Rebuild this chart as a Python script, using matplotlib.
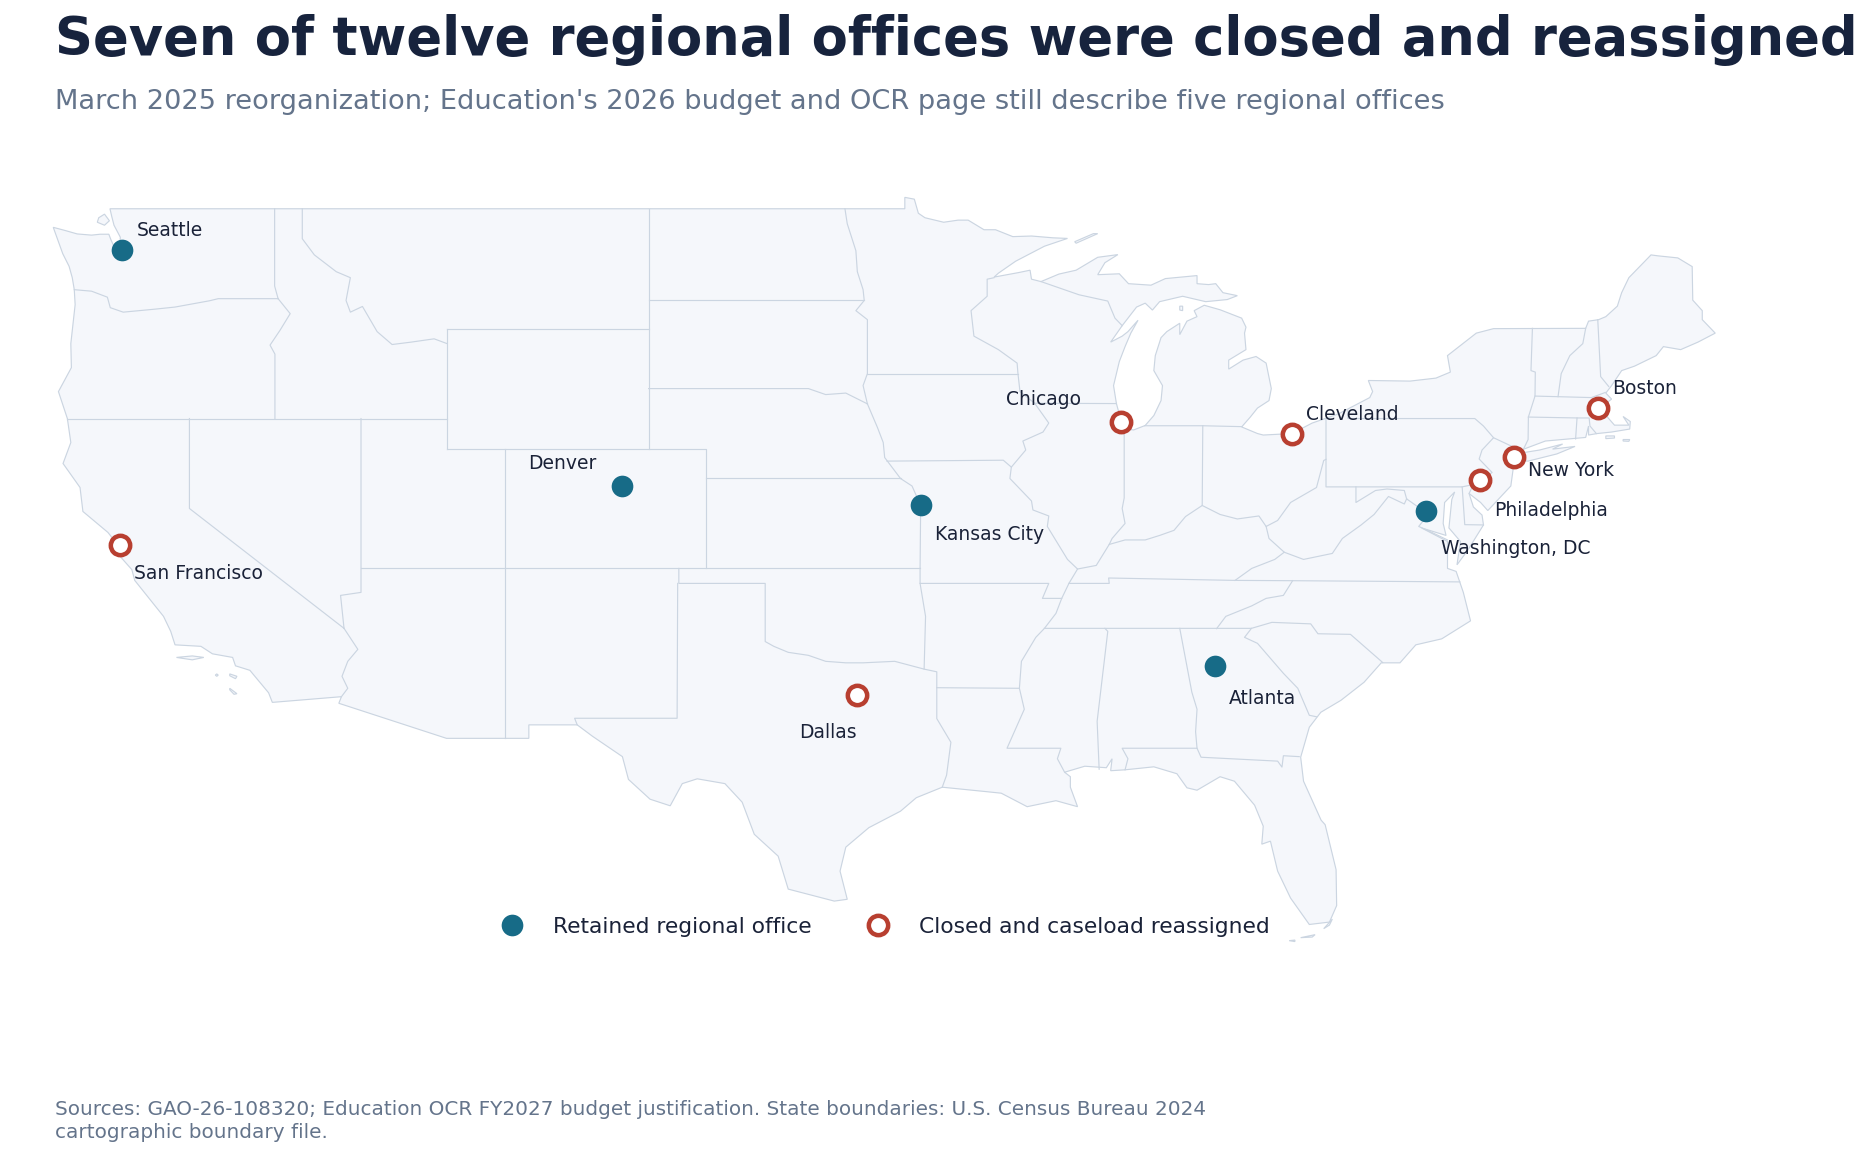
import matplotlib
matplotlib.use("Agg")
import matplotlib.pyplot as plt
from matplotlib.lines import Line2D

TITLE = "Seven of twelve regional offices were closed and reassigned"
SUBTITLE = "March 2025 reorganization; Education's 2026 budget and OCR page still describe five regional offices"
SOURCE = ("Sources: GAO-26-108320; Education OCR FY2027 budget justification. State boundaries: U.S. Census Bureau 2024\n"
          "cartographic boundary file.")

retained_names = ["Seattle", "Denver", "Kansas City", "Washington, DC", "Atlanta"]
retained_lon = [-122.33, -104.99, -94.58, -77.04, -84.39]
retained_lat = [47.61, 39.74, 39.10, 38.90, 33.75]
closed_names = ["San Francisco", "Dallas", "Chicago", "Cleveland", "New York", "Philadelphia", "Boston"]
closed_lon = [-122.42, -96.80, -87.63, -81.69, -74.00, -75.16, -71.06]
closed_lat = [37.77, 32.78, 41.88, 41.50, 40.71, 39.95, 42.36]

mainland = [
 (-124.73,48.38),(-124.3,48.27),(-123.9,48.16),(-123.4,48.12),(-123.1,48.15),(-122.8,48.15),(-122.72,47.95),(-122.55,47.6),
 (-122.5,47.3),(-122.42,47.3),(-122.42,47.75),(-122.4,48.05),(-122.62,48.45),(-122.7,48.75),(-122.76,49.0),
 (-95.15,49.0),(-95.15,49.38),(-94.82,49.32),(-94.68,48.85),(-94.45,48.7),(-93.8,48.55),(-93.3,48.62),(-92.95,48.62),(-92.4,48.3),(-92.0,48.3),
 (-91.4,48.07),(-90.75,48.09),(-90.0,48.03),(-89.5,48.01),(-90.3,47.75),(-91.3,47.25),(-91.9,46.85),(-92.05,46.72),
 (-91.2,46.87),(-90.8,46.95),(-90.75,46.65),(-90.42,46.57),(-89.8,46.82),(-89.2,46.95),(-88.45,47.38),(-87.75,47.47),
 (-88.2,47.2),(-88.45,46.8),(-87.7,46.83),(-87.38,46.5),(-86.6,46.45),(-86.1,46.67),(-85.0,46.77),(-85.0,46.5),(-84.6,46.47),(-84.35,46.5),
 (-84.1,46.2),(-83.6,46.1),(-83.95,45.97),(-84.7,45.9),(-85.5,46.08),(-86.3,45.9),(-86.55,45.62),(-86.8,45.85),(-87.1,45.72),(-87.6,45.1),
 (-88.0,44.55),(-87.6,44.75),(-87.4,44.9),(-87.05,45.28),(-87.3,44.85),(-87.5,44.4),(-87.7,43.9),(-87.9,43.1),(-87.8,42.5),(-87.63,41.9),(-87.5,41.65),
 (-87.2,41.62),(-86.8,41.77),(-86.5,42.1),(-86.25,42.6),(-86.2,43.1),(-86.5,43.6),(-86.45,44.1),(-86.25,44.7),(-86.05,44.9),
 (-85.6,45.18),(-85.6,44.8),(-85.35,45.25),(-85.0,45.4),(-85.1,45.6),(-84.75,45.78),(-84.2,45.63),(-83.45,45.35),(-83.3,45.05),
 (-83.35,44.85),(-83.3,44.3),(-83.9,43.95),(-83.9,43.65),(-83.4,43.95),(-82.95,44.07),(-82.6,43.85),(-82.42,43.0),(-82.5,42.6),
 (-82.9,42.35),(-83.15,42.05),(-83.45,41.72),(-82.9,41.5),(-82.7,41.45),(-81.7,41.5),(-81.0,41.85),(-80.1,42.15),(-79.0,42.7),
 (-78.9,42.9),(-79.05,43.27),(-77.6,43.25),(-76.7,43.35),(-76.2,43.55),(-76.3,44.1),(-75.3,44.85),(-74.7,45.0),(-71.5,45.01),
 (-71.4,45.25),(-71.05,45.3),(-70.8,45.4),(-70.4,45.75),(-70.25,46.2),(-70.0,46.7),(-69.23,47.46),(-69.0,47.43),(-68.3,47.36),
 (-67.8,47.07),(-67.78,45.95),(-67.45,45.6),(-67.45,45.3),(-67.0,44.85),(-67.6,44.55),(-68.2,44.3),(-68.8,44.4),(-69.05,44.1),
 (-69.8,43.75),(-70.25,43.6),(-70.6,43.1),(-70.8,42.85),(-70.6,42.65),(-71.0,42.35),(-70.7,42.0),(-70.5,41.78),(-70.0,41.78),
 (-70.2,42.07),(-69.95,41.9),(-69.97,41.65),(-70.6,41.55),(-71.1,41.5),(-71.4,41.45),(-71.4,41.75),(-71.5,41.37),(-72.9,41.25),
 (-73.65,40.98),(-74.0,40.7),(-74.0,40.45),(-74.1,39.75),(-74.9,38.93),(-75.15,39.2),(-75.55,39.5),(-75.4,39.05),(-75.1,38.78),(-75.05,38.45),
 (-75.6,37.6),(-75.97,37.12),(-75.85,37.9),(-76.25,38.35),(-76.15,39.3),(-76.05,39.55),(-76.4,39.2),(-76.45,38.5),(-76.35,38.1),(-77.2,38.35),
 (-76.3,37.9),(-76.3,37.0),(-76.0,36.9),(-75.75,36.2),(-75.5,35.25),(-76.5,34.65),(-77.4,34.45),(-77.95,33.85),(-78.6,33.85),
 (-79.2,33.2),(-80.0,32.6),(-80.7,32.2),(-81.1,31.7),(-81.4,30.7),(-81.3,29.9),(-80.69,28.6),(-80.55,28.45),(-80.17,26.95),(-80.15,25.75),
 (-80.4,25.2),(-81.1,25.12),(-81.75,26.0),(-82.2,26.9),(-82.45,27.9),(-82.75,27.8),(-82.7,28.4),(-83.0,29.1),(-83.7,29.9),(-84.2,30.05),
 (-85.0,29.6),(-85.35,29.68),(-85.7,30.15),(-86.5,30.38),(-87.5,30.28),(-88.0,30.25),(-87.95,30.65),(-88.15,30.35),(-88.9,30.4),
 (-89.6,30.2),(-89.4,30.05),(-89.4,29.7),(-89.15,29.05),(-89.9,29.25),(-90.9,29.05),(-91.8,29.5),(-92.3,29.55),(-93.85,29.7),
 (-94.75,29.35),(-95.3,28.9),(-96.4,28.35),(-97.2,27.7),(-97.4,26.9),(-97.15,25.96),(-97.6,25.9),(-98.2,26.05),(-99.2,26.3),
 (-99.55,27.4),(-100.38,28.13),(-100.8,29.2),(-101.4,29.82),(-102.36,29.98),(-102.88,29.82),(-103.3,29.08),(-104.0,29.3),(-104.75,29.96),
 (-104.96,30.72),(-106.0,31.4),(-106.53,31.78),(-108.21,31.78),(-108.21,31.33),(-111.07,31.33),(-114.81,32.5),(-114.72,32.72),
 (-117.12,32.53),(-117.25,32.85),(-117.9,33.6),(-118.4,33.75),(-118.5,34.03),(-119.2,34.15),(-119.6,34.4),(-120.5,34.45),
 (-120.65,34.9),(-120.9,35.4),(-121.9,36.6),(-122.0,36.96),(-122.5,37.5),(-122.5,37.8),(-122.83,38.2),(-123.7,38.9),(-123.8,39.7),
 (-124.39,40.5),(-124.12,41.2),(-124.24,42.0),(-124.55,42.9),(-124.1,43.7),(-124.12,44.5),(-123.97,45.8),(-124.0,46.3),(-124.07,46.7),
 (-124.18,47.08),(-124.4,47.5),(-124.73,48.38)]

islands = [
 [(-74.03,40.6),(-73.75,40.85),(-73.1,40.95),(-72.3,41.15),(-72.65,40.98),(-71.87,41.07),(-72.5,40.82),(-73.5,40.58)],
 [(-89.2,47.85),(-88.45,48.17),(-88.6,48.17),(-89.25,47.9)],
 [(-123.2,48.55),(-122.95,48.45),(-122.78,48.6),(-122.95,48.82),(-123.15,48.7)],
 [(-120.45,34.03),(-119.9,34.08),(-119.5,34.03),(-119.9,33.95)],
 [(-118.6,33.48),(-118.35,33.4),(-118.4,33.32),(-118.6,33.42)],
 [(-118.6,33.0),(-118.35,32.82),(-118.45,32.8),(-118.6,32.95)],
 [(-119.05,33.48),(-119.0,33.44),(-119.05,33.4),(-119.1,33.44)],
 [(-70.8,41.42),(-70.5,41.42),(-70.5,41.35),(-70.8,41.33)],
 [(-70.2,41.3),(-69.97,41.3),(-70.0,41.24),(-70.2,41.25)],
 [(-85.6,45.75),(-85.5,45.75),(-85.5,45.6),(-85.6,45.62)],
 [(-81.8,24.58),(-81.6,24.6),(-81.6,24.55)],
 [(-81.4,24.68),(-80.9,24.78),(-81.0,24.7)],
 [(-80.6,24.98),(-80.3,25.3),(-80.4,25.1)],
]

state_lines = [
 [(-117.04,49.0),(-117.04,46.42),(-116.92,46.0)],
 [(-124.0,46.3),(-123.4,46.25),(-122.85,46.05),(-122.75,45.7),(-122.3,45.55),(-121.2,45.65),(-120.5,45.72),(-119.3,45.93),(-119.0,46.0),(-116.92,46.0)],
 [(-116.92,46.0),(-116.5,45.5),(-116.85,44.95),(-117.2,44.45),(-117.03,44.15),(-117.03,42.0)],
 [(-116.08,49.0),(-116.08,48.0),(-115.66,47.46),(-114.9,46.9),(-114.41,46.7),(-114.56,45.94),(-114.41,45.55),(-113.99,45.74),(-113.48,44.9),(-112.96,44.47),(-112.3,44.55),(-111.5,44.66),(-111.05,44.5)],
 [(-111.05,45.0),(-104.05,45.0)],
 [(-111.05,45.0),(-111.05,41.0)],
 [(-111.05,41.0),(-102.05,41.0),(-102.05,37.0)],
 [(-104.05,49.0),(-104.05,41.0)],
 [(-104.05,45.94),(-96.56,45.94)],
 [(-104.05,43.0),(-98.5,43.0),(-97.9,42.8),(-97.2,42.85),(-96.45,42.49)],
 [(-102.05,40.0),(-95.3,40.0)],
 [(-124.24,42.0),(-111.05,42.0)],
 [(-114.04,42.0),(-114.04,36.2),(-114.75,36.1),(-114.63,35.0)],
 [(-109.05,41.0),(-109.05,31.33)],
 [(-114.04,37.0),(-94.62,37.0)],
 [(-120.0,42.0),(-120.0,39.0),(-114.63,35.0)],
 [(-114.63,35.0),(-114.15,34.3),(-114.5,33.9),(-114.7,33.4),(-114.5,33.0),(-114.72,32.72)],
 [(-103.0,37.0),(-103.0,36.5),(-100.0,36.5),(-100.0,34.56),(-99.7,34.4),(-99.2,34.2),(-98.5,34.1),(-97.9,33.9),(-97.2,33.85),(-96.6,33.85),(-95.5,33.9),(-94.48,33.64),(-94.04,33.55),(-94.04,31.99),(-93.55,31.2),(-93.7,30.1),(-93.85,29.7)],
 [(-103.04,36.5),(-103.06,32.0),(-106.62,32.0),(-106.53,31.78)],
 [(-94.62,37.0),(-94.62,36.5),(-94.43,35.4),(-94.48,33.64)],
 [(-94.04,33.02),(-91.17,33.0)],
 [(-95.3,40.0),(-94.9,39.75),(-94.6,39.1),(-94.62,37.0)],
 [(-94.62,36.5),(-90.15,36.5),(-90.37,36.0),(-89.7,36.0)],
 [(-92.05,46.7),(-92.29,46.65),(-92.29,46.08),(-92.85,45.6),(-92.75,44.75),(-91.9,44.3),(-91.25,43.85),(-91.22,43.5),(-91.15,42.9),(-90.64,42.51),(-90.15,41.85),(-90.35,41.55),(-91.05,41.25),(-90.95,40.95),(-91.45,40.38),(-91.5,40.0),(-90.75,39.25),(-90.7,38.95),(-90.15,38.75),(-90.2,38.4),(-89.5,37.3),(-89.15,36.98),(-89.45,36.5),(-89.7,36.0),(-89.9,35.5),(-90.3,35.0),(-90.6,34.7),(-91.1,33.9),(-91.17,33.0),(-91.0,32.3),(-91.6,31.0),(-89.73,31.0),(-89.85,30.65),(-89.6,30.2)],
 [(-96.45,43.5),(-91.22,43.5)],
 [(-96.45,42.49),(-96.6,43.1),(-96.45,43.5),(-96.45,45.3),(-96.85,45.6),(-96.56,45.94),(-96.6,46.3),(-96.8,46.9),(-96.85,47.6),(-97.15,48.5),(-97.23,49.0)],
 [(-96.45,42.49),(-96.1,41.7),(-95.9,41.2),(-95.85,40.7),(-95.3,40.0)],
 [(-95.77,40.58),(-91.73,40.61),(-91.45,40.38)],
 [(-90.42,46.57),(-89.1,46.13),(-88.1,45.92),(-87.85,45.35),(-87.6,45.1)],
 [(-90.64,42.51),(-87.8,42.5)],
 [(-87.53,41.7),(-87.53,39.35),(-87.6,39.0),(-87.5,38.5),(-87.95,38.0),(-88.05,37.8)],
 [(-86.82,41.76),(-84.8,41.76),(-83.45,41.73)],
 [(-84.8,41.76),(-84.82,39.1)],
 [(-89.15,36.98),(-88.5,37.1),(-88.05,37.8),(-87.5,37.95),(-86.8,37.95),(-86.3,38.1),(-85.8,38.27),(-85.4,38.73),(-84.82,39.1),(-84.2,38.8),(-83.6,38.65),(-82.85,38.75),(-82.6,38.4),(-82.2,38.6),(-81.75,39.2),(-80.85,39.7),(-80.6,40.6),(-80.52,40.64)],
 [(-80.52,41.97),(-80.52,39.72),(-75.79,39.72),(-75.4,39.8)],
 [(-79.76,42.27),(-79.76,42.0),(-75.35,42.0),(-75.05,41.75),(-74.7,41.36),(-75.1,40.95),(-75.2,40.65),(-74.75,40.2),(-75.4,39.8),(-75.55,39.5)],
 [(-74.7,41.36),(-73.9,41.0)],
 [(-73.65,41.0),(-73.5,41.3),(-73.49,42.05),(-73.26,42.75),(-73.25,43.55),(-73.4,43.6),(-73.35,45.01)],
 [(-71.5,45.01),(-71.6,44.5),(-72.05,44.1),(-72.35,43.5),(-72.46,42.73)],
 [(-73.26,42.75),(-71.3,42.7),(-70.82,42.87)],
 [(-71.08,45.3),(-70.98,43.4),(-70.7,43.07)],
 [(-73.49,42.05),(-71.8,42.02),(-71.38,42.02),(-71.35,41.75),(-71.13,41.5)],
 [(-71.8,42.02),(-71.85,41.32)],
 [(-83.68,36.6),(-83.1,37.0),(-82.3,37.3),(-81.97,37.54),(-82.5,38.0),(-82.6,38.4)],
 [(-81.97,37.54),(-81.3,37.3),(-80.3,37.5),(-79.95,38.0),(-79.3,38.45),(-78.85,38.8),(-78.35,39.4),(-77.8,39.15),(-77.72,39.32)],
 [(-79.48,39.72),(-79.48,39.2),(-78.8,39.6),(-78.4,39.65),(-77.8,39.6),(-77.72,39.32),(-77.1,38.9),(-77.05,38.7),(-77.3,38.4),(-76.95,38.25),(-76.3,37.95)],
 [(-75.79,39.72),(-75.7,38.46),(-75.05,38.45)],
 [(-89.45,36.5),(-88.05,36.5),(-88.07,36.68),(-83.68,36.6),(-81.68,36.59),(-75.87,36.55)],
 [(-81.68,36.59),(-82.0,36.1),(-82.6,36.0),(-83.1,35.75),(-84.0,35.4),(-84.32,34.99)],
 [(-90.3,35.0),(-83.11,35.0),(-82.4,35.2),(-81.05,35.15),(-80.8,34.82),(-79.67,34.8),(-78.55,33.86)],
 [(-83.11,35.0),(-83.35,34.7),(-82.9,34.5),(-82.0,33.5),(-81.5,33.0),(-81.1,32.1),(-80.85,32.05)],
 [(-88.2,35.0),(-88.1,34.9),(-88.47,31.9),(-88.4,30.3)],
 [(-85.6,35.0),(-85.18,32.87),(-85.0,32.3),(-85.05,31.55),(-85.0,31.0)],
 [(-87.5,30.28),(-87.4,30.65),(-87.6,31.0),(-85.0,31.0),(-84.86,30.7),(-82.2,30.57),(-82.05,30.37),(-82.0,30.75),(-81.45,30.72)],
]

FILL, EDGE = "#F5F7FB", "#CBD5E1"
TEAL, RED = "#176B87", "#B83F30"
W, H, DPI = 1875, 1162, 120

# label positions are given in figure pixels
label_px = {"Seattle":(137,230),"San Francisco":(134,574),"Denver":(528,464),"Kansas City":(935,534),
            "Atlanta":(1229,698),"Dallas":(799,733),"Chicago":(1006,399),"Cleveland":(1306,414),
            "New York":(1528,470),"Philadelphia":(1494,511),"Washington, DC":(1441,549),"Boston":(1612,388)}

fig = plt.figure(figsize=(W/DPI, H/DPI), dpi=DPI, facecolor="white")
ax = fig.add_axes([0, 0, 1, 1])
ax.set_xlim(-126.58, -61.45)
ax.set_ylim(17.195, 55.965)
ax.axis("off")

for poly in [mainland] + islands:
    ax.fill([p[0] for p in poly], [p[1] for p in poly], facecolor=FILL, edgecolor=EDGE, linewidth=0.7, zorder=1)
for line in state_lines:
    ax.plot([p[0] for p in line], [p[1] for p in line], color=EDGE, linewidth=0.7, zorder=2)

ax.scatter(retained_lon, retained_lat, s=169, color=TEAL, linewidths=0, zorder=4)
ax.scatter(closed_lon, closed_lat, s=135, facecolor="white", edgecolor=RED, linewidths=2.7, zorder=4)

for name in retained_names + closed_names:
    x, y = label_px[name]
    fig.text(x/W, 1-y/H, name, fontsize=11.25, color="#1A2238", ha="left", va="center", zorder=5)

fig.text(55/W, 1-55.5/H, TITLE, fontsize=31.65, fontweight="bold", color="#17233D", ha="left", va="baseline")
fig.text(55/W, 1-109/H, SUBTITLE, fontsize=16.35, color="#64748B", ha="left", va="baseline")
fig.text(55/W, 1-1100/H, SOURCE, fontsize=12.03, color="#64748B", ha="left", va="top", linespacing=1.27)

handles = [Line2D([], [], linestyle="none", marker="o", markersize=13, markerfacecolor=TEAL, markeredgewidth=0),
           Line2D([], [], linestyle="none", marker="o", markersize=11.6, markerfacecolor="white", markeredgecolor=RED, markeredgewidth=2.7)]
fig.legend(handles, ["Retained regional office", "Closed and caseload reassigned"], ncol=2, frameon=False,
           loc="center left", bbox_to_anchor=(490/W, 1-927/H), fontsize=13.05, labelcolor="#1A2238",
           handletextpad=0.88, columnspacing=2.07, borderpad=0, borderaxespad=0)

fig.savefig("out.png", dpi=DPI)
